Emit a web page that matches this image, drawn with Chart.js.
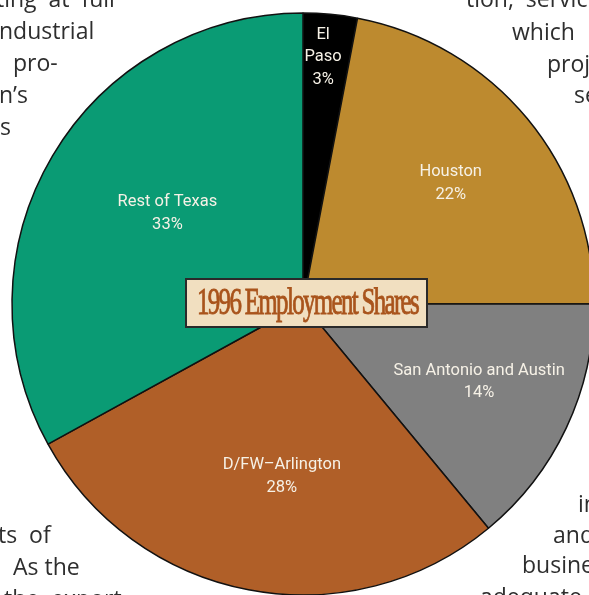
<!DOCTYPE html>
<html>
<head>
<meta charset="utf-8">
<script src="https://cdn.jsdelivr.net/npm/chart.js@4/dist/chart.umd.min.js"></script>
<style>
  html, body { margin: 0; padding: 0; width: 589px; height: 595px; overflow: hidden; background: #ffffff; }
  #wrap { position: absolute; left: -47px; top: -46px; width: 700px; height: 700px; }
</style>
</head>
<body>
<div id="wrap"><canvas id="c" width="700" height="700"></canvas></div>
<script>
// ---- data ----
const regions = ["El Paso", "Houston", "San Antonio and Austin", "D/FW\u2013Arlington", "Rest of Texas"];
const shares = [3, 22, 14, 28, 33];
const labelLines = [["El", "Paso"], ["Houston"], ["San Antonio and Austin"], ["D/FW\u2013Arlington"], ["Rest of Texas"]];
const chartTitle = "1996 Employment Shares";
// surrounding article text fragments visible around the chart
const pageText = ["ting  at  full", "ndustrial", "pro-", "n\u2019s", "s",
                  "tion,  servic", "which", "proj", "se",
                  "ts  of", "As the", "the  export",
                  "in", "and", "busine", "adequate"];

// ---- styles ----
const colors = ["#000000", "#bd8a2f", "#808080", "#b05f28", "#0a9b74"];
// label placement: fraction of radius, angle offset (deg)
const labelPlace = [[0.852, -0.75], [0.655, 0.4], [0.662, -1.3], [0.596, -3.8], [0.56, 3.1]];
// page text positions: [x, baseline y]
const pageTextPos = [[-4, 7], [-1, 39], [13, 71], [-1, 103], [0, 135],
                     [466, 7], [512, 40], [547, 72], [574, 103],
                     [-2, 543], [13, 575], [4, 607],
                     [578, 512], [553, 543], [522, 573], [480, 605]];
const OFFX = 47, OFFY = 46;

const decor = {
  id: 'decor',
  beforeDatasetsDraw(chart) {
    const ctx = chart.ctx;
    ctx.save();
    ctx.translate(OFFX, OFFY);
    ctx.fillStyle = '#2e2e2e';
    ctx.font = "23px 'Open Sans'";
    ctx.textBaseline = 'alphabetic';
    ctx.textAlign = 'left';
    pageText.forEach((t, i) => {
      ctx.fillText(t, pageTextPos[i][0], pageTextPos[i][1]);
    });
    ctx.restore();
  },
  afterDatasetsDraw(chart) {
    const ctx = chart.ctx;
    const meta = chart.getDatasetMeta(0);
    ctx.save();
    // slice labels
    ctx.fillStyle = '#f6f1e6';
    ctx.font = "16.5px Roboto";
    ctx.textAlign = 'center';
    ctx.textBaseline = 'middle';
    meta.data.forEach((arc, i) => {
      const p = arc.getProps(['x', 'y', 'startAngle', 'endAngle', 'outerRadius'], true);
      const mid = (p.startAngle + p.endAngle) / 2 + labelPlace[i][1] * Math.PI / 180;
      const r = p.outerRadius * labelPlace[i][0];
      const cx = p.x + Math.cos(mid) * r;
      const cy = p.y + Math.sin(mid) * r;
      const lines = labelLines[i].concat([shares[i] + "%"]);
      const lh = 22.5;
      const y0 = cy - (lines.length - 1) * lh / 2;
      lines.forEach((ln, k) => ctx.fillText(ln, cx, y0 + k * lh));
    });
    // title box
    ctx.translate(OFFX, OFFY);
    const bx = 186, by = 279, bw = 241, bh = 48;
    ctx.fillStyle = '#f1dfc0';
    ctx.fillRect(bx, by, bw, bh);
    ctx.lineWidth = 2;
    ctx.strokeStyle = '#2a2a2a';
    ctx.strokeRect(bx, by, bw, bh);
    ctx.font = "37px 'Liberation Serif'";
    if ('letterSpacing' in ctx) ctx.letterSpacing = '-2.5px';
    ctx.fillStyle = '#a9541c';
    ctx.strokeStyle = '#a9541c';
    ctx.lineWidth = 0.9;
    ctx.textAlign = 'left';
    ctx.textBaseline = 'alphabetic';
    const w = ctx.measureText(chartTitle).width;
    const target = 221;
    ctx.save();
    ctx.translate(197, 314);
    ctx.scale(target / w, 1);
    ctx.fillText(chartTitle, 0, 0);
    ctx.strokeText(chartTitle, 0, 0);
    ctx.restore();
    ctx.restore();
  }
};

new Chart(document.getElementById('c'), {
  type: 'pie',
  data: {
    labels: regions,
    datasets: [{
      data: shares,
      backgroundColor: colors,
      borderColor: '#111111',
      borderWidth: 1.5,
      borderAlign: 'center'
    }]
  },
  options: {
    responsive: false,
    animation: false,
    radius: 291,
    layout: { padding: 0 },
    plugins: {
      legend: { display: false },
      tooltip: { enabled: false },
      title: { display: false }
    }
  },
  plugins: [decor]
});
</script>
</body>
</html>
